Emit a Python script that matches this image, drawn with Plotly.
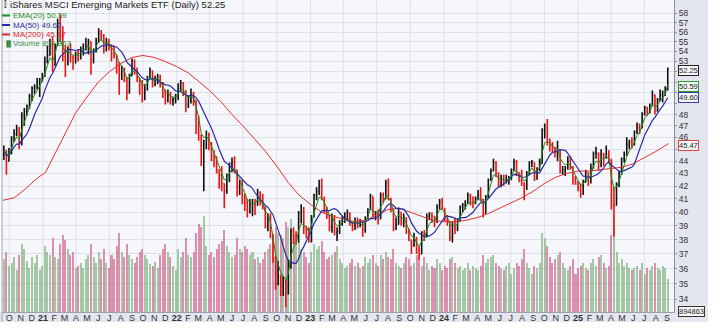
import math
import pandas as pd
import plotly.graph_objects as go

# ---------------- data (weekly bars) ----------------
first_week_mid = "2020-09-16"
first_open = 44.5

close_2020 = [44.9, 44.0, 44.6, 46.0, 46.3, 46.7, 45.5, 47.9, 48.3, 48.7, 49.7, 50.4, 50.5, 51.0, 51.2, 51.7]
high_2020 = [45.3, 44.9, 45.1, 46.1, 46.7, 47.1, 46.9, 48.2, 48.6, 48.9, 49.9, 50.6, 50.8, 51.4, 51.4, 51.9]
low_2020 = [44.1, 42.9, 44.0, 44.6, 45.6, 46.1, 45.0, 45.3, 47.0, 47.9, 48.5, 49.2, 49.9, 50.3, 49.6, 51.0]

close_2021 = [53.0, 53.6, 54.6, 52.6, 54.6, 56.9, 55.6, 53.5, 53.0, 54.2, 53.5, 53.3, 53.8, 53.6, 54.3, 54.3,
              54.6, 55.0, 53.2, 54.0, 55.1, 55.8, 55.6, 54.2, 55.0, 54.5, 53.8, 53.7, 52.9, 51.8, 52.0, 51.4,
              50.1, 51.6, 53.1, 52.0, 51.4, 50.7, 50.0, 50.3, 51.4, 52.1, 50.8, 51.3, 51.5, 50.8, 49.9, 49.3,
              49.8, 49.3, 49.4, 49.6]
high_2021 = [53.5, 54.6, 55.3, 55.5, 54.8, 57.4, 57.8, 56.6, 54.6, 54.5, 54.8, 53.6, 54.0, 54.2, 54.5, 54.8,
             55.4, 55.3, 55.0, 54.3, 55.4, 56.4, 56.2, 55.8, 55.4, 55.3, 54.7, 54.6, 53.6, 52.8, 52.6, 52.4,
             51.5, 51.8, 53.3, 53.2, 52.4, 51.4, 51.2, 50.8, 51.6, 52.4, 52.1, 51.6, 51.8, 51.7, 51.0, 50.3,
             50.3, 50.1, 49.6, 49.9]
low_2021 = [51.5, 52.8, 53.6, 52.0, 52.8, 54.7, 55.0, 53.0, 51.5, 52.6, 52.9, 52.2, 52.8, 53.0, 53.2, 53.6,
            54.1, 53.7, 51.7, 52.8, 53.9, 54.9, 55.1, 53.8, 54.0, 54.1, 53.0, 53.3, 51.8, 49.8, 51.2, 51.0,
            49.3, 49.9, 51.6, 51.7, 51.0, 49.8, 49.1, 49.3, 50.2, 51.3, 50.5, 50.6, 50.8, 50.5, 49.5, 48.9,
            49.1, 48.9, 48.8, 49.0]

close_2022 = [50.4, 50.9, 50.2, 48.9, 49.3, 49.8, 49.3, 47.6, 46.2, 44.3, 45.4, 46.3, 45.4, 44.4, 44.1, 43.3,
              42.9, 42.2, 41.6, 42.6, 43.8, 43.9, 43.3, 41.9, 42.2, 41.0, 40.8, 40.0, 40.6, 40.6, 40.5, 41.5,
              40.7, 40.4, 39.0, 39.7, 38.3, 36.7, 35.0, 35.5, 34.8, 35.2, 34.8, 36.4, 38.6, 38.3, 38.3, 39.9,
              40.0, 38.8, 38.7, 38.0]
high_2022 = [50.9, 51.2, 51.0, 50.2, 49.7, 50.4, 50.1, 49.2, 47.9, 46.0, 45.8, 46.6, 46.4, 45.6, 44.9, 44.4,
             43.3, 43.6, 42.2, 43.0, 43.9, 44.3, 44.4, 43.2, 42.5, 42.5, 41.4, 41.0, 41.0, 41.0, 41.0, 41.8,
             41.6, 41.4, 40.4, 39.9, 39.9, 38.4, 36.9, 36.5, 35.6, 35.5, 35.3, 36.6, 38.8, 38.9, 38.6, 40.1,
             40.6, 40.4, 39.0, 38.9]
low_2022 = [49.3, 50.1, 49.7, 48.2, 48.6, 49.0, 48.8, 46.3, 45.7, 43.6, 41.6, 45.0, 44.9, 44.0, 43.5, 43.0,
            41.8, 41.6, 40.3, 41.4, 42.3, 43.1, 43.0, 41.2, 41.3, 40.6, 40.1, 39.6, 39.9, 39.7, 39.8, 40.6,
            40.5, 40.2, 38.8, 38.6, 38.1, 36.4, 34.6, 34.9, 34.2, 34.2, 33.5, 34.3, 36.0, 37.7, 37.6, 37.8,
            39.2, 38.4, 38.1, 37.8]

close_2023 = [39.7, 41.3, 41.6, 42.0, 41.0, 40.2, 39.8, 38.9, 39.7, 38.5, 38.6, 39.1, 39.6, 39.6, 39.9, 39.1,
              39.0, 39.3, 39.0, 39.3, 38.7, 39.6, 40.2, 41.2, 39.8, 40.0, 39.5, 41.3, 41.0, 42.2, 41.0, 40.2,
              38.8, 39.1, 40.0, 39.2, 39.6, 38.6, 38.0, 37.6, 38.0, 37.3, 37.0, 38.5, 38.2, 39.7, 39.8, 39.7,
              39.4, 40.4, 40.8, 40.3]
high_2023 = [39.8, 41.4, 41.9, 42.5, 42.6, 41.2, 40.4, 39.8, 39.9, 39.8, 38.9, 39.4, 39.7, 40.0, 40.2, 40.0,
             39.3, 39.6, 39.6, 39.5, 39.3, 39.7, 40.3, 41.4, 41.0, 40.1, 40.2, 41.5, 41.5, 42.5, 42.6, 41.1,
             40.0, 39.6, 40.3, 40.0, 39.9, 39.6, 38.8, 38.0, 38.5, 38.2, 37.5, 38.6, 38.7, 39.9, 40.0, 40.0,
             39.7, 40.6, 41.0, 41.1]
low_2023 = [37.8, 39.6, 40.9, 41.3, 40.9, 39.9, 39.5, 38.6, 38.5, 38.3, 37.9, 38.4, 39.0, 39.2, 39.4, 39.0,
            38.6, 38.7, 38.8, 38.9, 38.2, 38.5, 39.5, 40.2, 39.6, 39.4, 39.1, 39.6, 40.7, 41.0, 40.9, 40.0,
            38.6, 38.7, 39.2, 39.0, 38.9, 38.4, 37.9, 37.0, 37.5, 37.0, 36.6, 37.0, 37.9, 38.3, 39.4, 39.2,
            38.9, 39.2, 40.2, 40.2]

close_2024 = [39.4, 39.3, 38.1, 39.1, 38.8, 39.4, 40.4, 40.5, 40.7, 41.3, 40.7, 40.7, 41.1, 41.3, 41.0, 39.9,
              41.1, 42.5, 43.2, 43.9, 43.0, 42.1, 42.6, 42.3, 42.5, 42.5, 43.3, 43.9, 43.0, 42.8, 42.2, 41.9,
              43.0, 43.9, 43.9, 42.6, 43.4, 43.8, 46.6, 46.8, 45.8, 45.3, 45.0, 44.7, 44.9, 43.2, 43.3, 43.4,
              44.0, 43.5, 42.5, 42.3]
high_2024 = [40.2, 39.8, 39.2, 39.3, 39.6, 39.5, 40.5, 40.7, 40.9, 41.5, 41.4, 41.2, 41.2, 41.7, 41.9, 40.9,
             41.3, 42.6, 43.4, 44.2, 44.0, 43.1, 42.9, 42.9, 42.9, 42.8, 43.4, 44.2, 44.1, 43.1, 43.3, 42.3,
             43.2, 44.0, 44.1, 43.8, 43.5, 44.2, 46.8, 47.2, 47.6, 45.9, 45.6, 45.2, 45.7, 44.6, 43.6, 43.6,
             44.4, 44.4, 43.6, 42.8]
low_2024 = [39.3, 39.0, 37.9, 37.8, 38.4, 38.6, 39.3, 40.0, 40.2, 40.6, 40.5, 40.3, 40.6, 40.9, 40.8, 39.6,
            40.1, 41.2, 42.4, 43.3, 42.7, 41.9, 41.9, 42.0, 42.2, 42.1, 42.5, 43.2, 42.8, 42.3, 42.0, 40.9,
            41.7, 42.9, 43.5, 42.4, 42.5, 43.2, 44.1, 45.9, 45.3, 44.8, 44.7, 44.3, 44.0, 43.0, 42.9, 42.8,
            43.3, 43.3, 42.1, 42.1]

close_2025 = [41.9, 41.4, 42.3, 43.1, 42.6, 43.4, 44.6, 44.7, 43.6, 44.6, 44.3, 44.6, 44.0, 40.5, 40.5, 42.1,
              43.0, 44.2, 44.5, 45.4, 45.6, 45.4, 46.5, 46.9, 46.8, 48.1, 48.6, 48.3, 48.8, 49.8, 48.3, 49.3,
              49.8, 49.9, 50.3, 52.25]
high_2025 = [42.4, 42.2, 42.5, 43.3, 43.0, 43.8, 44.8, 45.2, 44.6, 45.0, 44.7, 45.3, 44.9, 44.2, 41.9, 42.3,
             43.2, 44.3, 44.8, 46.0, 45.8, 46.0, 46.6, 47.3, 47.2, 48.2, 48.8, 48.7, 49.0, 50.2, 49.8, 49.5,
             50.3, 50.2, 50.6, 52.4]
low_2025 = [41.6, 41.1, 41.3, 42.4, 42.0, 42.2, 43.5, 44.2, 43.2, 43.5, 43.6, 44.2, 43.8, 40.2, 38.2, 41.0,
            41.9, 42.9, 43.9, 44.8, 45.0, 45.1, 45.3, 46.3, 46.3, 46.8, 47.9, 47.9, 48.1, 48.9, 48.0, 48.4,
            49.2, 49.1, 49.7, 50.2]

# average daily volume per week (millions)
vol_2020 = [48, 55, 42, 45, 50, 38, 52, 62, 58, 47, 40, 50, 45, 52, 38, 42]
vol_2021 = [60, 55, 52, 68, 50, 48, 62, 70, 66, 58, 52, 55, 40, 42, 45, 40, 48, 52, 62, 50, 45, 55, 48, 58, 45, 40,
            52, 48, 60, 72, 55, 50, 62, 52, 48, 45, 50, 55, 58, 52, 48, 44, 42, 46, 40, 52, 58, 62, 55, 50, 42, 38]
vol_2022 = [58, 50, 55, 68, 52, 50, 55, 72, 80, 78, 88, 60, 52, 55, 50, 58, 62, 65, 75, 60, 55, 50, 52, 68, 58, 55,
            60, 58, 52, 55, 48, 50, 45, 48, 55, 58, 62, 70, 78, 72, 70, 68, 82, 78, 85, 70, 60, 65, 58, 55, 50, 45]
vol_2023 = [55, 62, 58, 60, 65, 55, 48, 50, 52, 55, 60, 48, 45, 40, 42, 45, 48, 42, 45, 40, 42, 50, 45, 48, 52, 45,
            42, 52, 48, 55, 50, 48, 58, 45, 42, 40, 45, 50, 48, 42, 45, 52, 48, 42, 50, 45, 38, 42, 40, 48, 45, 38]
vol_2024 = [42, 40, 48, 50, 45, 40, 42, 38, 40, 45, 38, 42, 40, 38, 42, 52, 45, 48, 50, 52, 45, 42, 40, 38, 42, 45,
            35, 40, 45, 42, 48, 58, 45, 40, 35, 42, 40, 45, 72, 68, 60, 50, 45, 48, 52, 55, 45, 40, 38, 42, 48, 35]
vol_2025 = [40, 42, 45, 40, 38, 45, 48, 42, 50, 52, 45, 40, 42, 70, 88, 55, 45, 48, 42, 45, 40, 38, 40, 42, 38, 45,
            35, 40, 38, 42, 45, 40, 38, 42, 40, 30]

# 200-day moving average
ma200_dates = ["2020-09-14", "2020-10-15", "2020-11-15", "2020-12-15", "2021-01-08", "2021-02-01", "2021-03-01",
               "2021-04-01", "2021-05-01", "2021-06-01", "2021-07-01", "2021-08-01", "2021-09-01", "2021-10-01",
               "2021-11-01", "2021-12-01", "2022-01-01", "2022-02-01", "2022-03-01", "2022-04-01", "2022-05-01",
               "2022-06-01", "2022-07-01", "2022-08-01", "2022-09-01", "2022-10-01", "2022-11-01", "2022-12-01",
               "2023-01-01", "2023-02-01", "2023-03-01", "2023-04-01", "2023-05-01", "2023-06-01", "2023-07-01",
               "2023-08-01", "2023-09-01", "2023-10-01", "2023-11-01", "2023-12-01", "2024-01-01", "2024-02-01",
               "2024-03-01", "2024-04-01", "2024-05-01", "2024-06-01", "2024-07-01", "2024-08-01", "2024-09-01",
               "2024-10-01", "2024-11-01", "2024-12-01", "2025-01-01", "2025-02-01", "2025-03-01", "2025-04-01",
               "2025-05-01", "2025-06-01", "2025-07-01", "2025-08-01", "2025-09-05"]
ma200_vals = [40.9, 41.1, 41.8, 42.6, 43.1, 44.5, 46.3, 48.2, 49.6, 51.0, 52.0, 52.8, 53.4, 53.6, 53.4, 53.0,
              52.5, 51.9, 51.1, 50.2, 49.2, 48.0, 47.0, 45.9, 44.8, 43.6, 42.3, 41.3, 40.6, 40.0, 39.7, 39.5,
              39.3, 39.4, 39.8, 40.2, 40.3, 40.0, 39.7, 39.4, 39.3, 39.3, 39.4, 39.6, 39.9, 40.3, 40.7, 41.1,
              41.6, 42.2, 42.7, 43.0, 43.2, 43.2, 43.3, 43.4, 43.5, 43.8, 44.3, 44.8, 45.47]

title_text = "iShares MSCI Emerging Markets ETF (Daily) 52.25"
legend_items = [("EMA(20) 50.59", "#1c8c1c"), ("MA(50) 49.60", "#2a2aa0"),
                ("MA(200) 45.47", "#e02424"), ("Volume 894,863", "#3c8c3c")]
last_values = [(52.25, "#222222"), (50.59, "#2a9a2a"), (49.60, "#3a3ab0"), (45.47, "#e04040")]
volume_tag = "894863"
resistance_level = 57.6
resistance_start = "2021-02-17"
month_letters = ["J", "F", "M", "A", "M", "J", "J", "A", "S", "O", "N", "D"]
y_ticks = list(range(34, 59))
y_ticks_hidden_by_tags = [45, 49, 50, 51, 52]

# ---------------- assemble ----------------
close = close_2020 + close_2021 + close_2022 + close_2023 + close_2024 + close_2025
high = high_2020 + high_2021 + high_2022 + high_2023 + high_2024 + high_2025
low = low_2020 + low_2021 + low_2022 + low_2023 + low_2024 + low_2025
volume = vol_2020 + vol_2021 + vol_2022 + vol_2023 + vol_2024 + vol_2025
n = len(close)
assert len(high) == n and len(low) == n and len(volume) == n, (n, len(high), len(low), len(volume))

dates = pd.date_range(first_week_mid, periods=n, freq="7D")
opens = [first_open] + close[:-1]
high = [max(h, o, c) for h, o, c in zip(high, opens, close)]
low = [min(l, o, c) for l, o, c in zip(low, opens, close)]
up = [c >= o for o, c in zip(opens, close)]

s = pd.Series(close, index=dates)
ema20 = s.ewm(span=4, adjust=False).mean()
ma50 = s.rolling(10, min_periods=1).mean()

fig = go.Figure()

fig.add_trace(go.Bar(
    x=dates, y=volume, yaxis="y",
    marker=dict(color=["rgba(110,168,110,0.6)" if u else "rgba(205,80,125,0.62)" for u in up], line_width=0),
    width=5.5 * 86400000, showlegend=False, hoverinfo="skip"))

fig.add_trace(go.Ohlc(
    x=dates, open=opens, high=high, low=low, close=close, yaxis="y2",
    increasing=dict(line=dict(color="#111111", width=1.6)),
    decreasing=dict(line=dict(color="#ee1111", width=1.6)),
    tickwidth=0.35, showlegend=False, hoverinfo="skip"))

fig.add_trace(go.Scatter(x=pd.to_datetime(ma200_dates), y=ma200_vals, yaxis="y2", mode="lines",
                         line=dict(color="#e83030", width=1), showlegend=False, hoverinfo="skip"))
fig.add_trace(go.Scatter(x=dates, y=ma50.values, yaxis="y2", mode="lines",
                         line=dict(color="#2a2aa8", width=1.2), showlegend=False, hoverinfo="skip"))
fig.add_trace(go.Scatter(x=dates, y=ema20.values, yaxis="y2", mode="lines",
                         line=dict(color="#1c8c1c", width=1), showlegend=False, hoverinfo="skip"))

# month ticks
tick_dates = pd.date_range("2020-10-01", "2025-09-01", freq="MS")
tick_text = [("<b>%02d</b>" % (d.year % 100)) if d.month == 1 else month_letters[d.month - 1] for d in tick_dates]
quarter_dates = [d for d in tick_dates if d.month in (1, 4, 7, 10)]

grid_col = "#dde0e8"
shapes = []
shapes.append(dict(type="rect", xref="paper", yref="paper", x0=1.0, x1=1.0506, y0=-0.032, y1=1.0,
                   fillcolor="#e3e6ee", line_width=0, layer="below"))
shapes.append(dict(type="rect", xref="paper", yref="paper", x0=-0.003, x1=1.0, y0=-0.032, y1=0.0,
                   fillcolor="#e3e6ee", line_width=0, layer="below"))
for d in quarter_dates:
    shapes.append(dict(type="line", xref="x", yref="paper", x0=d, x1=d, y0=0, y1=1,
                       line=dict(color=grid_col, width=1), layer="below"))
shapes.append(dict(type="line", xref="x", yref="y2", x0=resistance_start, x1="2025-09-30",
                   y0=math.log10(resistance_level), y1=math.log10(resistance_level),
                   line=dict(color="#ee1010", width=2.5)))
shapes.append(dict(type="line", xref="paper", yref="paper", x0=0, x1=0, y0=-0.032, y1=1,
                   line=dict(color="#9aa0ad", width=1)))

annotations = []
plot_h = 312.0
def py(px):
    return 1 - px / plot_h

annotations.append(dict(xref="paper", yref="paper", x=0.009, y=py(5), xanchor="left", yanchor="middle",
                        text=title_text, showarrow=False,
                        font=dict(family="Liberation Sans, Arial", size=9.5, color="#222222")))
annotations.append(dict(xref="paper", yref="paper", x=0.0, y=py(5), xanchor="left", yanchor="middle",
                        text="\u2AFF", showarrow=False,
                        font=dict(family="DejaVu Sans", size=8, color="#333333")))
leg_y = [15.5, 25, 34.5, 44]
for (txt, col), yy in zip(legend_items, leg_y):
    annotations.append(dict(xref="paper", yref="paper", x=0.014, y=py(yy), xanchor="left", yanchor="middle",
                            text=txt, showarrow=False,
                            font=dict(family="Liberation Sans, Arial", size=8, color=col)))
    if txt.startswith("Volume"):
        annotations.append(dict(xref="paper", yref="paper", x=0.0, y=py(yy), xanchor="left", yanchor="middle",
                                text="\u2590\u258C", showarrow=False,
                                font=dict(family="DejaVu Sans", size=6, color=col)))
    else:
        shapes.append(dict(type="line", xref="paper", yref="paper", x0=0.0, x1=0.012, y0=py(yy), y1=py(yy),
                           line=dict(color=col, width=2)))

tag_shift = {52.25: -1, 45.47: -2}
for v, col in last_values:
    annotations.append(dict(xref="paper", yref="y2", x=1.0, y=math.log10(v), xanchor="left", yanchor="middle",
                            xshift=4, yshift=tag_shift.get(v, 0), text="%.2f" % v, showarrow=False,
                            bgcolor="#f7f7f7", bordercolor=col, borderwidth=1, borderpad=0,
                            font=dict(family="Liberation Sans, Arial", size=7.5, color="#222222")))
annotations.append(dict(xref="paper", yref="paper", x=1.0, y=py(311), xanchor="left", yanchor="middle",
                        xshift=4, text=volume_tag, showarrow=False, bgcolor="#f7f7f7", bordercolor="#333333",
                        borderwidth=1, borderpad=0,
                        font=dict(family="Liberation Sans, Arial", size=7.5, color="#222222")))

fig.update_layout(
    width=716, height=330,
    margin=dict(l=2, r=42, t=0, b=18, pad=0),
    paper_bgcolor="white", plot_bgcolor="#f6f7fb",
    showlegend=False, bargap=0,
    xaxis=dict(type="date", range=["2020-09-11", "2025-09-20"], tickmode="array",
               tickvals=tick_dates, ticktext=tick_text, showgrid=False, zeroline=False,
               rangeslider=dict(visible=False), ticks="", ticklen=0, ticklabelstandoff=-3,
               tickfont=dict(family="Liberation Sans, Arial", size=9, color="#333333"),
               showline=True, linecolor="#9aa0ad", linewidth=1),
    yaxis=dict(range=[0, 285], visible=False, showgrid=False, fixedrange=True),
    yaxis2=dict(type="log", overlaying="y", side="right", anchor="x",
                range=[math.log10(33.2), math.log10(59.45)],
                tickmode="array", tickvals=y_ticks,
                ticktext=["" if t in y_ticks_hidden_by_tags else str(t) for t in y_ticks],
                showgrid=True, gridcolor=grid_col, gridwidth=1, zeroline=False,
                ticks="outside", ticklen=2, tickcolor="#8a8f9c",
                showline=True, linecolor="#8a8f9c", linewidth=1,
                tickfont=dict(family="Liberation Sans, Arial", size=8.5, color="#333333")),
    shapes=shapes, annotations=annotations,
)

fig.write_html("out.html")
